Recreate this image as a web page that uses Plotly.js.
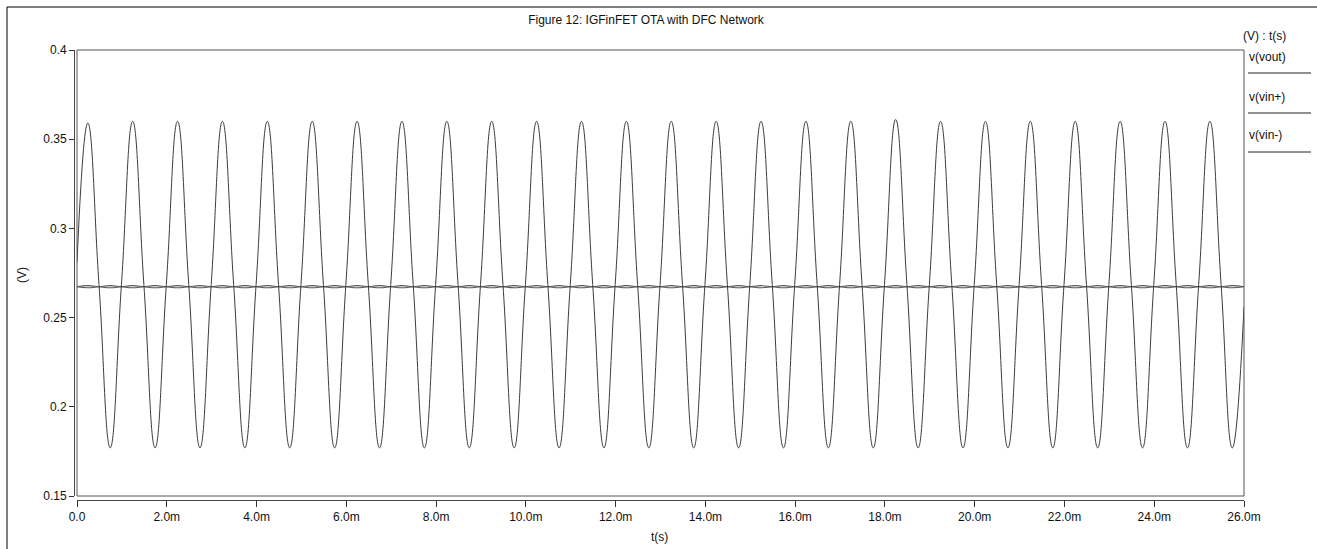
<!DOCTYPE html>
<html>
<head>
<meta charset="utf-8">
<script src="https://cdn.plot.ly/plotly-3.0.1.min.js"></script>
<style>
html,body{margin:0;padding:0;background:#fff;}
#chart{width:1317px;height:549px;}
</style>
</head>
<body>
<div id="chart"></div>
<script>
// ---- data (time in ms, voltage in V) ----
const cycleMs = [0,1,2,3,4,5,6,7,8,9,10,11,12,13,14,15,16,17,18,19,20,21,22,23,24,25];
const voutPeak = [0.359,0.360,0.360,0.360,0.360,0.360,0.360,0.360,0.360,0.360,0.360,0.360,0.360,
                  0.360,0.360,0.360,0.360,0.360,0.361,0.360,0.360,0.360,0.360,0.360,0.360,0.360];
const voutTrough = [0.177,0.177,0.177,0.177,0.177,0.177,0.177,0.177,0.177,0.177,0.177,0.177,0.177,
                    0.177,0.177,0.177,0.177,0.177,0.177,0.177,0.177,0.177,0.177,0.177,0.177,0.177];
const voutMid = 0.2685;
const voutStart = 0.281;
const voutEnd = 0.256;
const vinMid = 0.2673;
const vinPlusAtPeak = 0.2679;
const vinPlusAtTrough = 0.2667;
const vinMinusAtPeak = 0.2667;
const vinMinusAtTrough = 0.2679;
// phase (ms inside each 1 ms cycle) of peak, falling crossing, trough, rising crossing
const phaseMs = [0.24, 0.49, 0.74, 0.99];
const endMs = 26;

const seriesNames = ["v(vout)", "v(vin+)", "v(vin-)"];
const xTickVals = [0,2,4,6,8,10,12,14,16,18,20,22,24,26];
const xTickText = ["0.0","2.0m","4.0m","6.0m","8.0m","10.0m","12.0m","14.0m","16.0m","18.0m","20.0m","22.0m","24.0m","26.0m"];
const yTickVals = [0.15,0.2,0.25,0.3,0.35,0.4];
const yTickText = ["0.15","0.2","0.25","0.3","0.35","0.4"];

// ---- build traces from the read key points ----
function build(startV, peakArr, troughArr, midV, endV) {
  const t = [0], v = [startV];
  cycleMs.forEach((c, k) => {
    t.push(c + phaseMs[0]); v.push(peakArr[k]);
    t.push(c + phaseMs[1]); v.push(midV);
    t.push(c + phaseMs[2]); v.push(troughArr[k]);
    if (k < cycleMs.length - 1) { t.push(c + phaseMs[3]); v.push(midV); }
  });
  t.push(endMs); v.push(endV);
  return {t, v};
}
const vout = build(voutStart, voutPeak, voutTrough, voutMid, voutEnd);
const vinP = build(vinMid, cycleMs.map(() => vinPlusAtPeak), cycleMs.map(() => vinPlusAtTrough), vinMid, vinMid);
const vinM = build(vinMid, cycleMs.map(() => vinMinusAtPeak), cycleMs.map(() => vinMinusAtTrough), vinMid, vinMid);

const traces = [
  {x: vinP.t, y: vinP.v, name: seriesNames[1], mode: 'lines', line: {color: '#555', width: 1.1, shape: 'spline', smoothing: 1.3}},
  {x: vinM.t, y: vinM.v, name: seriesNames[2], mode: 'lines', line: {color: '#555', width: 1.1, shape: 'spline', smoothing: 1.3}},
  {x: vout.t, y: vout.v, name: seriesNames[0], mode: 'lines', line: {color: '#3c3c3c', width: 1, shape: 'spline', smoothing: 1.3}}
];

// ---- layout helpers: pixel -> paper ----
const L = 74, R = 1244, T = 50, B = 500;
const px = x => (x - L) / (R - L);
const py = y => (B - y) / (B - T);
const font = {family: 'Liberation Sans, Arial, sans-serif', size: 12, color: '#111'};

const shapes = [
  {type: 'rect', xref: 'x domain', yref: 'y domain', x0: 0, x1: 1, y0: 0, y1: 1, line: {color: '#555', width: 1}},
  {type: 'line', xref: 'paper', yref: 'paper', x0: px(7), x1: px(1317), y0: py(7), y1: py(7), line: {color: '#000', width: 1}},
  {type: 'line', xref: 'paper', yref: 'paper', x0: px(7), x1: px(7), y0: py(7), y1: py(549), line: {color: '#000', width: 1}}
];
const legendY = [57, 97, 135];
const legendLineY = [73, 113, 152];
const annotations = [
  {xref: 'paper', yref: 'paper', x: px(1241), y: py(36), xanchor: 'left', yanchor: 'middle', text: '(V) : t(s)', showarrow: false, font},
  {xref: 'paper', yref: 'paper', x: px(22), y: py(275), xanchor: 'center', yanchor: 'middle', text: '(V)', textangle: -90, showarrow: false, font},
  {xref: 'paper', yref: 'paper', x: px(659), y: py(537), xanchor: 'center', yanchor: 'middle', text: 't(s)', showarrow: false, font}
];
seriesNames.forEach((n, i) => {
  annotations.push({xref: 'paper', yref: 'paper', x: px(1247), y: py(legendY[i]), xanchor: 'left', yanchor: 'middle', text: n, showarrow: false, font});
  shapes.push({type: 'line', xref: 'paper', yref: 'paper', x0: px(1248), x1: px(1311), y0: py(legendLineY[i]), y1: py(legendLineY[i]), line: {color: '#222', width: 1}});
});

const layout = {
  width: 1317, height: 549,
  margin: {l: L, r: 1317 - R, t: T, b: 549 - B, pad: 0},
  paper_bgcolor: '#fff', plot_bgcolor: '#fff',
  showlegend: false,
  font,
  title: {text: 'Figure 12: IGFinFET OTA with DFC Network', font, x: 646 / 1317, xref: 'container', xanchor: 'center', y: 1 - 20 / 549, yref: 'container', yanchor: 'middle'},
  xaxis: {
    domain: [3 / (R - L), 1], range: [0, 26], anchor: 'free', position: 0,
    tickmode: 'array', tickvals: xTickVals, ticktext: xTickText,
    ticks: 'outside', ticklen: 6, tickcolor: '#333', tickfont: font,
    showline: true, linecolor: '#444', linewidth: 1,
    showgrid: false, zeroline: false, fixedrange: true
  },
  yaxis: {
    domain: [4 / (B - T), 1], range: [0.15, 0.4], anchor: 'free', position: 0,
    tickmode: 'array', tickvals: yTickVals, ticktext: yTickText,
    ticks: 'outside', ticklen: 5, tickcolor: '#333', tickfont: font,
    showline: true, linecolor: '#444', linewidth: 1,
    showgrid: false, zeroline: false, fixedrange: true
  },
  shapes, annotations
};

Plotly.newPlot('chart', traces, layout, {displayModeBar: false, staticPlot: true});
</script>
</body>
</html>
